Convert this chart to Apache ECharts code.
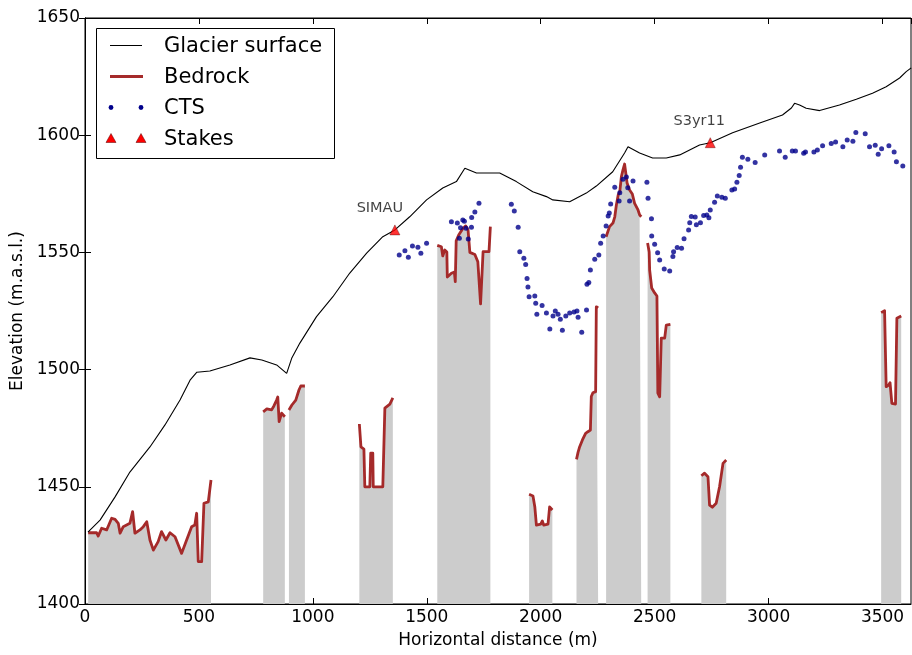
<!DOCTYPE html>
<html>
<head>
<meta charset="utf-8">
<script src="https://cdn.jsdelivr.net/npm/echarts@6/dist/echarts.min.js"></script>
<style>html,body{margin:0;padding:0;background:#fff}#c{width:912px;height:655px}</style>
</head>
<body>
<div id="c"></div>
<script>
// ---- Data (distance in m, elevation in m a.s.l.) ----
const xTicks = [0, 500, 1000, 1500, 2000, 2500, 3000, 3500];
const yTicks = [1400, 1450, 1500, 1550, 1600, 1650];

const surfaceX = [13,66,132,197,285,351,417,461,491,548,636,724,776,841,885,907,943,1016,1088,1162,1236,1307,1360,1425,1499,1570,1630,1667,1718,1820,1893,1965,2025,2053,2127,2200,2244,2316,2368,2383,2434,2491,2551,2610,2697,2744,2842,2961,3061,3100,3114,3136,3165,3224,3311,3385,3456,3516,3575,3604,3626];
const surfaceY = [1430.7,1435.8,1445.7,1456.3,1467,1476.4,1487,1495.5,1498.9,1499.4,1502,1505,1504.1,1502,1498.4,1504.8,1511.3,1522.6,1531.1,1541.2,1549.7,1556.7,1559.6,1565.2,1572.4,1577.5,1580.2,1585.9,1583.9,1583.9,1580.2,1575.9,1573.8,1572.4,1571.6,1575.3,1578.3,1584.4,1592.4,1595.1,1592.4,1590.3,1590.3,1591.6,1595.8,1596.8,1601,1605.2,1608.6,1611.6,1613.6,1612.9,1611.5,1610.5,1612.9,1615.3,1617.9,1620.7,1624.4,1627.1,1628.7];

const bedrockX = [
  [14,51,58,73,95,117,132,146,154,168,197,209,219,241,256,271,285,300,321,336,343,355,373,395,424,446,468,482,490,497,512,522,541,553],
  [782,798,819,829,841,846,852,863,877],
  [895,908,925,939,947,965],
  [1204,1211,1224,1228,1250,1254,1263,1265,1307,1316,1338,1351],
  [1546,1564,1570,1579,1588,1590,1608,1621,1625,1629,1640,1659,1671,1681,1689,1711,1724,1732,1736,1744,1747,1773,1779],
  [1949,1966,1974,1981,2000,2007,2013,2032,2039,2051],
  [2157,2164,2171,2183,2197,2207,2218,2222,2229,2241,2244,2252],
  [2287,2302,2317,2325,2332,2340,2347,2354,2361,2368,2376,2379,2390,2402,2412,2427,2434,2441],
  [2469,2476,2478,2487,2500,2510,2514,2522,2529,2544,2551,2569],
  [2705,2719,2734,2741,2753,2770,2778,2785,2792,2800,2814],
  [3494,3509,3516,3527,3533,3541,3557,3563,3582]
];
const bedrockY = [
  [1430.4,1430.4,1429.0,1432.3,1431.6,1436.6,1436.1,1434.4,1430.2,1433.0,1434.4,1439.4,1430.2,1431.6,1433.0,1435.1,1427.3,1423.0,1426.6,1430.9,1431.6,1427.3,1430.4,1428.7,1421.6,1427.3,1433.0,1433.7,1438.7,1418.1,1418.1,1443.0,1443.6,1452.9],
  [1482.0,1483.2,1482.8,1484.5,1487.0,1488.3,1477.8,1481.4,1479.9],
  [1482.8,1484.9,1487.0,1491.3,1493.0,1493.0],
  [1476.8,1467.0,1466.1,1450.0,1450.0,1464.4,1464.4,1450.0,1450.0,1483.6,1485.3,1487.9],
  [1553.0,1552.4,1548.5,1551.0,1550.2,1539.5,1541.1,1541.6,1537.5,1554.9,1557.4,1560.3,1561.3,1559.6,1550.0,1549.1,1546.0,1545.3,1528.0,1527.6,1550.3,1550.3,1561.0],
  [1446.8,1446.1,1441.5,1433.7,1434.1,1435.4,1433.7,1434.1,1441.4,1440.1],
  [1461.7,1464.8,1467.1,1470.0,1472.8,1473.5,1474.2,1488.5,1490.1,1490.6,1526.8,1526.3],
  [1556.7,1561.0,1562.5,1565.2,1570.2,1574.5,1575.9,1582.3,1585.2,1587.7,1587.7,1579.6,1576.6,1574.9,1570.9,1568.1,1566.0,1565.2],
  [1554.0,1550.2,1542.5,1534.8,1532.7,1531.4,1490.0,1488.4,1513.4,1513.4,1519.0,1519.3],
  [1454.7,1455.8,1454.3,1442.2,1441.3,1443.0,1443.7,1450.1,1450.8,1460.0,1461.4],
  [1524.3,1525.1,1492.7,1493.4,1494.4,1485.6,1485.3,1521.9,1522.9]
];

const ctsX = [1379,1404,1419,1437,1461,1474,1499,1608,1634,1643,1648,1658,1665,1672,1682,1696,1697,1711,1729,1871,1884,1901,1908,1926,1934,1940,1944,1949,1974,1978,1983,2006,2025,2040,2054,2064,2076,2086,2095,2110,2127,2146,2159,2164,2180,2201,2203,2211,2218,2237,2255,2263,2274,2287,2296,2301,2307,2325,2344,2347,2361,2376,2382,2390,2405,2466,2471,2486,2487,2500,2513,2522,2542,2566,2580,2583,2599,2618,2629,2649,2654,2661,2678,2683,2701,2715,2729,2738,2744,2763,2775,2795,2810,2839,2851,2861,2871,2877,2885,2909,2941,2983,3048,3073,3104,3118,3154,3162,3199,3214,3237,3275,3294,3326,3345,3370,3383,3424,3443,3468,3481,3496,3528,3551,3561,3589];
const ctsY = [1548.9,1550.7,1547.9,1552.7,1552.2,1549.6,1553.9,1563.1,1562.5,1556.0,1560.5,1563.8,1563.3,1560.3,1555.7,1560.7,1564.9,1567.2,1571.0,1570.5,1567.7,1560.7,1550.3,1547.5,1544.8,1538.9,1535.2,1531.1,1531.4,1528.3,1523.6,1527.3,1524.1,1517.3,1522.9,1525.0,1523.6,1521.5,1516.8,1522.9,1524.2,1524.6,1525.0,1522.3,1515.9,1525.4,1536.4,1537.2,1542.5,1547.1,1548.9,1553.9,1557.0,1561.3,1565.5,1566.8,1570.7,1577.8,1571.9,1575.5,1581.2,1582.2,1577.6,1571.9,1580.5,1579.9,1573.1,1564.4,1557.0,1553.5,1549.9,1546.8,1542.9,1542.1,1548.2,1550.3,1552.1,1551.8,1555.8,1559.6,1562.7,1565.3,1565.1,1561.8,1562.7,1565.7,1566.0,1564.8,1568.1,1571.4,1574.1,1573.5,1573.1,1576.6,1577.1,1579.9,1582.8,1586.3,1590.6,1589.7,1588.3,1591.6,1593.3,1590.6,1593.3,1593.3,1592.3,1592.8,1592.8,1593.7,1595.5,1596.5,1597.1,1595.1,1598.0,1597.4,1601.2,1600.6,1595.1,1595.7,1591.9,1594.2,1595.5,1592.8,1588.7,1586.9];

const stakeNames = ['SIMAU', 'S3yr11'];
const stakeX = [1360, 2744];
const stakeY = [1559.6, 1596.8];
const stakeLabelDx = [-15, -11];

const legendNames = ['Glacier surface', 'Bedrock', 'CTS', 'Stakes'];

// ---- Styles ----
const FONT = 'DejaVu Sans';
const BED_COLOR = '#a52a2a';
const CTS_COLOR = '#00008b';
const FILL_COLOR = '#cccccc';
const XMAX = 3625;

const zip = (xs, ys) => xs.map((x, i) => [x, ys[i]]);

const series = [];
bedrockX.forEach((xs, i) => {
  series.push({
    type: 'line', name: 'bedfill' + i, data: zip(xs, bedrockY[i]),
    symbol: 'none', silent: true, z: 1,
    lineStyle: { width: 0, opacity: 0 },
    areaStyle: { color: FILL_COLOR, opacity: 1, origin: 'start' }
  });
});
bedrockX.forEach((xs, i) => {
  series.push({
    type: 'line', name: 'Bedrock', data: zip(xs, bedrockY[i]),
    symbol: 'none', z: 3,
    lineStyle: { color: BED_COLOR, width: 2.8, join: 'round' }
  });
});
series.push({
  type: 'line', name: 'Glacier surface', data: zip(surfaceX, surfaceY),
  symbol: 'none', z: 4,
  lineStyle: { color: '#000', width: 1.1 }
});
series.push({
  type: 'scatter', name: 'CTS', data: zip(ctsX, ctsY),
  symbol: 'circle', symbolSize: 5, z: 5,
  itemStyle: { color: CTS_COLOR }
});
series.push({
  type: 'scatter', name: 'Stakes',
  data: stakeX.map((x, i) => ({
    name: stakeNames[i], value: [x, stakeY[i]],
    label: { offset: [stakeLabelDx[i], -4] }
  })),
  symbol: 'triangle', symbolSize: 10, z: 6,
  itemStyle: { color: '#ff0000', borderColor: '#550000', borderWidth: 0.5 },
  label: {
    show: true, position: 'top', formatter: p => p.name,
    fontFamily: FONT, fontSize: 14.5, color: '#111'
  }
});

// ---- Legend drawn as graphic ----
const LX = 96, LY = 28, rowY = [45.5, 76.5, 107.5, 138.5];
const graphic = [
  { type: 'rect', shape: { x: LX + 0.5, y: LY + 0.5, width: 238, height: 130 },
    style: { fill: '#fff', stroke: '#000', lineWidth: 1 }, z: 100 },
  { type: 'line', shape: { x1: 110, y1: rowY[0], x2: 142, y2: rowY[0] },
    style: { stroke: '#000', lineWidth: 1 }, z: 101 },
  { type: 'line', shape: { x1: 110, y1: rowY[1], x2: 143, y2: rowY[1] },
    style: { stroke: BED_COLOR, lineWidth: 2.8 }, z: 101 },
  { type: 'circle', shape: { cx: 111, cy: rowY[2], r: 2.4 }, style: { fill: CTS_COLOR }, z: 101 },
  { type: 'circle', shape: { cx: 141, cy: rowY[2], r: 2.4 }, style: { fill: CTS_COLOR }, z: 101 },
  { type: 'polygon', shape: { points: [[111, rowY[3] - 5], [106, rowY[3] + 4], [116, rowY[3] + 4]] },
    style: { fill: '#ff0000', stroke: '#550000', lineWidth: 0.5 }, z: 101 },
  { type: 'polygon', shape: { points: [[141, rowY[3] - 5], [136, rowY[3] + 4], [146, rowY[3] + 4]] },
    style: { fill: '#ff0000', stroke: '#550000', lineWidth: 0.5 }, z: 101 }
];
legendNames.forEach((n, i) => {
  graphic.push({
    type: 'text', x: 164, y: rowY[i] + 1, z: 101,
    style: { text: n, fontFamily: FONT, fontSize: 21, fill: '#000', textVerticalAlign: 'middle', textAlign: 'left' }
  });
});

const axisCommon = {
  type: 'value',
  axisLine: { show: true, lineStyle: { color: '#000', width: 1 } },
  axisTick: { show: true, inside: true, length: 6, lineStyle: { color: '#000', width: 1 } },
  splitLine: { show: false }
};

const option = {
  animation: false,
  backgroundColor: '#fff',
  grid: { left: 85, right: 1, top: 18, bottom: 51, show: true, borderColor: '#000', borderWidth: 1, backgroundColor: 'transparent' },
  xAxis: [
    Object.assign({}, axisCommon, {
      min: 0, max: XMAX, interval: 500, position: 'bottom',
      axisLabel: { color: '#000', fontFamily: FONT, fontSize: 17, margin: 5, showMaxLabel: false,
        formatter: v => (xTicks.indexOf(v) >= 0 ? String(v) : '') },
      name: 'Horizontal distance (m)', nameLocation: 'middle', nameGap: 28,
      nameTextStyle: { color: '#000', fontFamily: FONT, fontSize: 17 }
    }),
    Object.assign({}, axisCommon, {
      min: 0, max: XMAX, interval: 500, position: 'top', axisLabel: { show: false }
    })
  ],
  yAxis: [
    Object.assign({}, axisCommon, {
      min: 1400, max: 1650, interval: 50, position: 'left',
      axisLabel: { color: '#000', fontFamily: FONT, fontSize: 17, margin: 5,
        formatter: v => (yTicks.indexOf(v) >= 0 ? String(v) : '') },
      name: 'Elevation (m.a.s.l.)', nameLocation: 'middle', nameGap: 54, nameRotate: 90,
      nameTextStyle: { color: '#000', fontFamily: FONT, fontSize: 17 }
    }),
    Object.assign({}, axisCommon, {
      min: 1400, max: 1650, interval: 50, position: 'right', axisLabel: { show: false }
    })
  ],
  series: series,
  graphic: graphic
};

const chart = echarts.init(document.getElementById('c'), null, { renderer: 'canvas' });
chart.setOption(option);
</script>
</body>
</html>
